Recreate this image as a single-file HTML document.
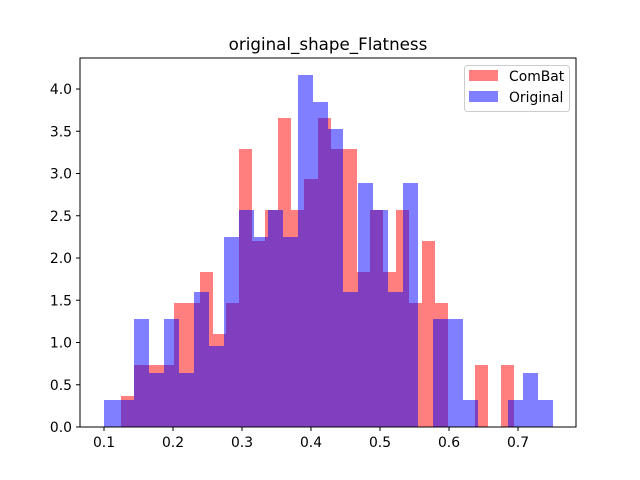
<!DOCTYPE html>
<html><head><meta charset="utf-8"><style>body{margin:0;background:#fff}svg{display:block}text{font-family:"DejaVu Sans","Liberation Sans",sans-serif;fill:#000}</style></head>
<body>
<svg id="chart" width="640" height="480">
<rect x="0" y="0" width="640" height="480" fill="#fff"/>
<text x="328" y="50" font-size="16.7" text-anchor="middle">original_shape_Flatness</text>
<g id="bars" shape-rendering="crispEdges"></g>
<rect x="80" y="58" width="496" height="369" fill="none" stroke="#000" stroke-width="1"/>
<g id="axes"></g>
<g>
<rect x="464.5" y="65.5" width="105" height="46" rx="3" fill="#fff" fill-opacity="0.8" stroke="#ccc"/>
<rect x="469" y="70" width="29" height="11" fill="#ff0000" fill-opacity="0.5"/>
<text x="509" y="81" font-size="13.9">ComBat</text>
<rect x="469" y="91" width="29" height="11" fill="#0000ff" fill-opacity="0.5"/>
<text x="509" y="102" font-size="13.9">Original</text>
</g>
</svg>
<script>
const combatCounts = [1,2,2,2,4,4,5,3,4,9,6,7,10,7,8,10,9,9,5,7,5,7,4,6,4,0,0,2,0,2];
const combatRange = [0.125, 0.694];
const originalCounts = [1,1,4,2,4,2,5,3,7,8,7,8,7,13,12,11,5,9,8,5,9,0,4,4,1,0,0,1,2,1];
const originalRange = [0.1, 0.75];
const xTicks = [0.1,0.2,0.3,0.4,0.5,0.6,0.7];
const yTicks = [0,0.5,1,1.5,2,2.5,3,3.5,4];

const NS="http://www.w3.org/2000/svg";
function xs(v){return 104+(v-0.1)*690;}
function ys(v){return 427-v*84.5;}
function mk(t,a){const e=document.createElementNS(NS,t);for(const k in a)e.setAttribute(k,a[k]);return e;}
const bars=document.getElementById('bars');
function drawHist(counts,range,color,name){
  const n=counts.length,w=(range[1]-range[0])/n,tot=counts.reduce((a,b)=>a+b,0);
  counts.forEach((c,i)=>{
    if(!c)return;
    const d=c/(tot*w),x0=Math.round(xs(range[0]+i*w)),x1=Math.round(xs(range[0]+(i+1)*w));
    const r=mk('rect',{x:x0,y:Math.round(ys(d)),width:x1-x0,height:427-Math.round(ys(d)),fill:color,'fill-opacity':0.5});
    
    
    bars.appendChild(r);
  });
}
drawHist(combatCounts,combatRange,'#ff0000','combat');
drawHist(originalCounts,originalRange,'#0000ff','original');
const axes=document.getElementById('axes');
xTicks.forEach(v=>{
  const x=xs(v);
  axes.appendChild(mk('line',{x1:x,x2:x,y1:427,y2:431,stroke:'#000'}));
  const t=mk('text',{x:x,y:447,'font-size':13.9,'text-anchor':'middle'});
  t.textContent=v.toFixed(1);
  
  
  axes.appendChild(t);
});
yTicks.forEach(v=>{
  const y=ys(v);
  axes.appendChild(mk('line',{x1:76,x2:80,y1:y,y2:y,stroke:'#000'}));
  const t=mk('text',{x:72,y:y+5,'font-size':13.9,'text-anchor':'end'});
  t.textContent=v.toFixed(1);
  
  
  axes.appendChild(t);
});
</script>
</body></html>
